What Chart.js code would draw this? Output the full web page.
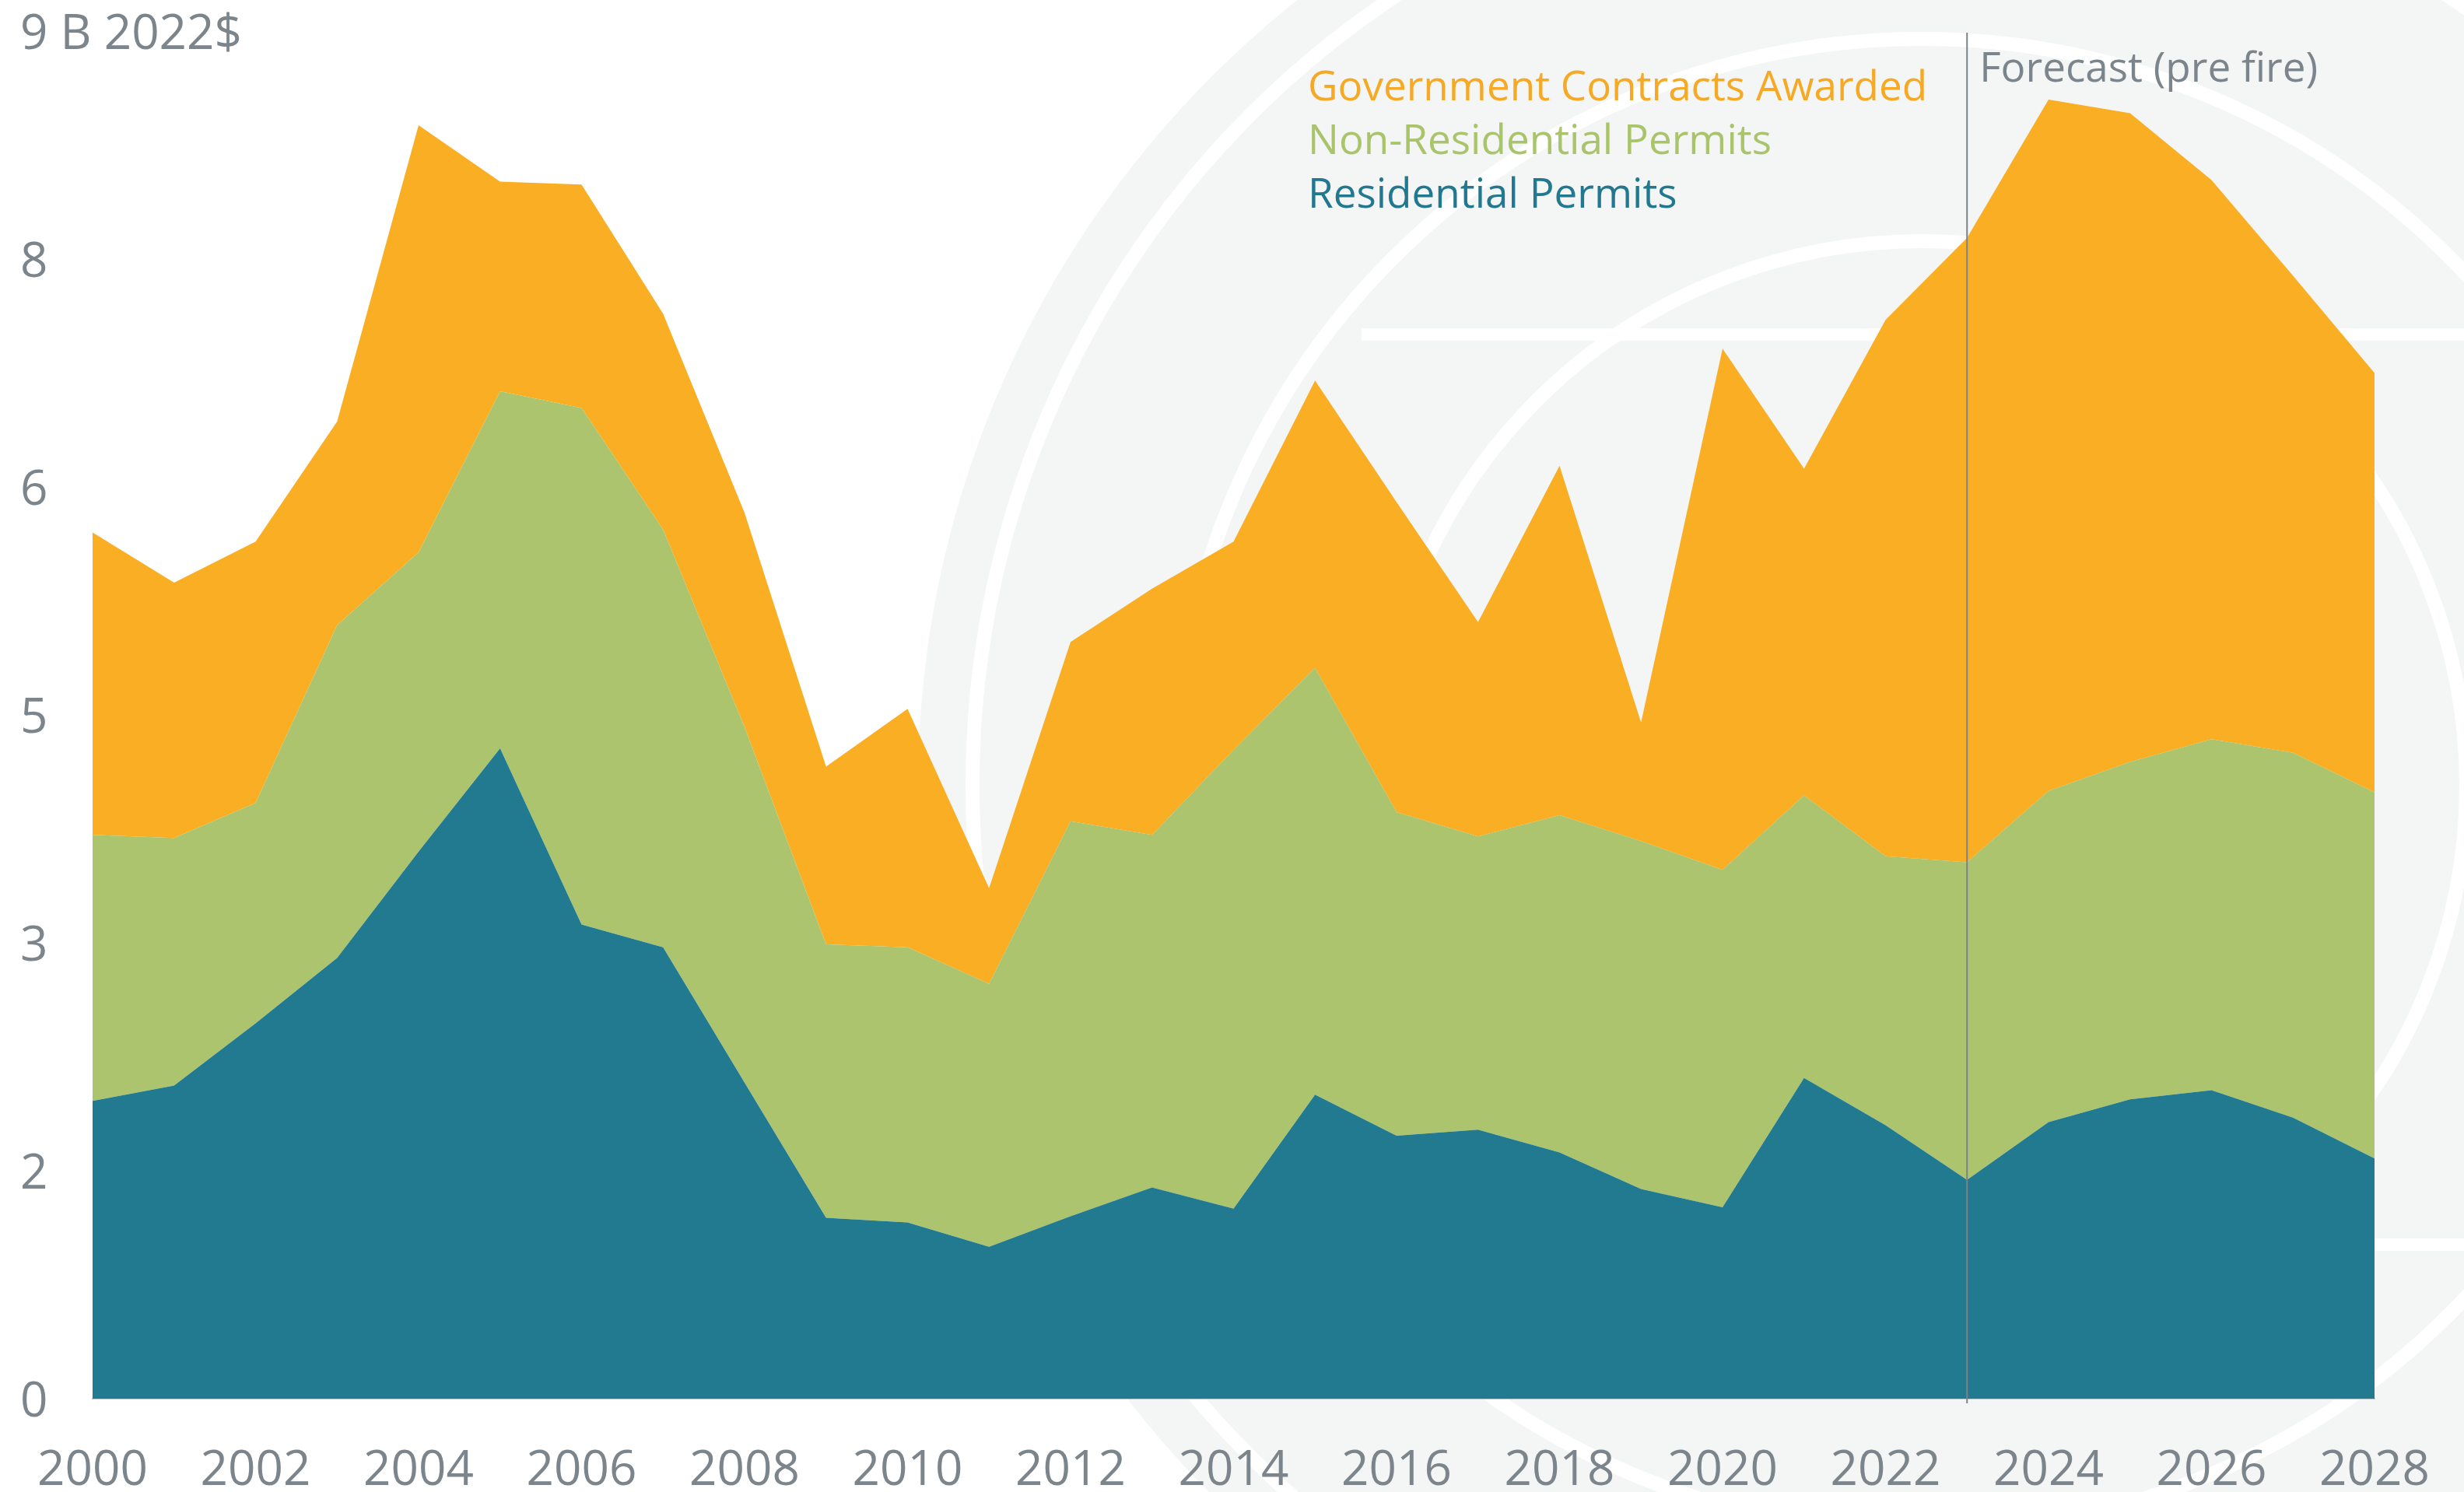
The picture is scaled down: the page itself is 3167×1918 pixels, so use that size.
<!DOCTYPE html>
<html>
<head>
<meta charset="utf-8">
<script src="https://cdn.jsdelivr.net/npm/chart.js@4.4.1/dist/chart.umd.min.js"></script>
<style>
    html, body { margin: 0; padding: 0; background: #ffffff; }
    #wrap { width: 3167px; height: 1918px; position: relative; }
</style>
</head>
<body>
<div id="wrap"><canvas id="permitsChart"></canvas></div>
<script>
const years = [
    '2000', '2001', '2002', '2003', '2004', '2005', '2006', '2007', '2008', '2009',
    '2010', '2011', '2012', '2013', '2014', '2015', '2016', '2017', '2018', '2019',
    '2020', '2021', '2022', '2023', '2024', '2025', '2026', '2027', '2028'
];

// billions of 2022 dollars, stacked bottom to top
const residentialPermits = [
    1.96, 2.06, 2.47, 2.90, 3.60, 4.28, 3.12, 2.97, 2.08, 1.19,
    1.16, 1.00, 1.20, 1.39, 1.25, 2.00, 1.73, 1.77, 1.62, 1.38,
    1.26, 2.11, 1.80, 1.44, 1.82, 1.97, 2.03, 1.85, 1.58
];
const nonResidentialPermits = [
    1.75, 1.63, 1.45, 2.19, 1.97, 2.35, 3.40, 2.75, 2.34, 1.80,
    1.81, 1.73, 2.60, 2.32, 3.02, 2.81, 2.13, 1.93, 2.22, 2.29,
    2.22, 1.86, 1.77, 2.09, 2.18, 2.22, 2.31, 2.40, 2.41
];
const governmentContracts = [
    1.99, 1.68, 1.72, 1.34, 2.81, 1.38, 1.47, 1.42, 1.41, 1.17,
    1.57, 0.63, 1.18, 1.62, 1.37, 1.89, 2.04, 1.41, 2.30, 0.78,
    3.43, 2.15, 3.53, 4.11, 4.55, 4.27, 3.68, 3.14, 2.76
];

const yTickValues = [0, 1.5, 3, 4.5, 6, 7.5, 9];
const yTickLabels = ['0', '2', '3', '5', '6', '8', '9 B 2022$'];

const legendItems = [
    { text: 'Government Contracts Awarded', color: '#f6a925' },
    { text: 'Non-Residential Permits', color: '#a9c46b' },
    { text: 'Residential Permits', color: '#22788f' }
];
const forecastStart = '2023';
const forecastLabel = 'Forecast (pre fire)';

const FONT = '"Open Sans", "Noto Sans", sans-serif';
const TEXT_GREY = '#7b858b';

// faint seal in the background
const sealBackground = {
    id: 'sealBackground',
    beforeDraw: (chart) => {
        const { ctx } = chart;
        const cx = 2470, cy = 1010;
        ctx.save();
        ctx.fillStyle = '#f4f5f5';
        ctx.beginPath();
        ctx.arc(cx, cy, 1290, 0, Math.PI * 2);
        ctx.fill();

        ctx.strokeStyle = '#ffffff';
        ctx.lineWidth = 18;
        [1220, 960, 700].forEach((r) => {
            ctx.beginPath();
            ctx.arc(cx, cy, r, 0, Math.PI * 2);
            ctx.stroke();
        });

        ctx.lineWidth = 16;
        ctx.beginPath();
        ctx.moveTo(1750, 430);
        ctx.lineTo(3167, 430);
        ctx.moveTo(1750, 1600);
        ctx.lineTo(3167, 1600);
        ctx.stroke();
        ctx.restore();
    }
};

// legend text and forecast marker
const annotations = {
    id: 'annotations',
    afterDatasetsDraw: (chart) => {
        const { ctx, chartArea, scales } = chart;
        const x = scales.x.getPixelForValue(years.indexOf(forecastStart));

        ctx.save();
        ctx.strokeStyle = '#7b8389';
        ctx.lineWidth = 2;
        ctx.beginPath();
        ctx.moveTo(x, chartArea.top + 2);
        ctx.lineTo(x, chartArea.bottom + 6);
        ctx.stroke();

        ctx.font = '53px ' + FONT;
        ctx.textBaseline = 'middle';
        ctx.textAlign = 'left';
        ctx.fillStyle = TEXT_GREY;
        ctx.fillText(forecastLabel, x + 16, 90);

        legendItems.forEach((item, i) => {
            ctx.fillStyle = item.color;
            ctx.fillText(item.text, 1681, 114 + i * 69);
        });
        ctx.restore();
    }
};

const config = {
    type: 'line',
    data: {
        labels: years,
        datasets: [
            {
                label: 'Residential Permits',
                data: residentialPermits,
                backgroundColor: '#227a91',
                fill: 'origin',
            },
            {
                label: 'Non-Residential Permits',
                data: nonResidentialPermits,
                backgroundColor: '#abc46d',
                fill: '-1',
            },
            {
                label: 'Government Contracts Awarded',
                data: governmentContracts,
                backgroundColor: '#f9ae23',
                fill: '-1',
            },
        ],
    },
    options: {
        responsive: true,
        maintainAspectRatio: false,
        animation: false,
        elements: {
            line: { borderWidth: 0, tension: 0 },
            point: { radius: 0 },
        },
        layout: {
            padding: { left: 26, right: 115, top: 40, bottom: 0 },
        },
        plugins: {
            legend: { display: false },
            tooltip: { enabled: false },
        },
        scales: {
            x: {
                grid: { display: false, drawTicks: false },
                border: { display: true, color: '#b9c6cc', width: 2 },
                ticks: {
                    autoSkip: false,
                    maxRotation: 0,
                    padding: 56,
                    color: TEXT_GREY,
                    font: { family: FONT, size: 62 },
                    callback: (value, index) => (index % 2 === 0 ? years[index] : ''),
                },
                afterFit: (scale) => {
                    scale.height = 120;
                    scale.paddingLeft = 0;
                    scale.paddingRight = 0;
                },
            },
            y: {
                stacked: true,
                min: 0,
                max: 9,
                grid: { display: false, drawTicks: false },
                border: { display: false },
                afterBuildTicks: (scale) => {
                    scale.ticks = yTickValues.map((v) => ({ value: v }));
                },
                ticks: {
                    // mirrored so the long top label is not clipped to the axis box
                    mirror: true,
                    padding: -93,
                    labelOffset: 5,
                    color: TEXT_GREY,
                    font: { family: FONT, size: 62 },
                    callback: (value) => yTickLabels[yTickValues.indexOf(value)],
                },
                afterFit: (scale) => {
                    scale.width = 93;
                    scale.paddingTop = 0;
                    scale.paddingBottom = 0;
                },
            },
        },
    },
    plugins: [sealBackground, annotations],
};

new Chart(document.getElementById('permitsChart'), config);
</script>
</body>
</html>
